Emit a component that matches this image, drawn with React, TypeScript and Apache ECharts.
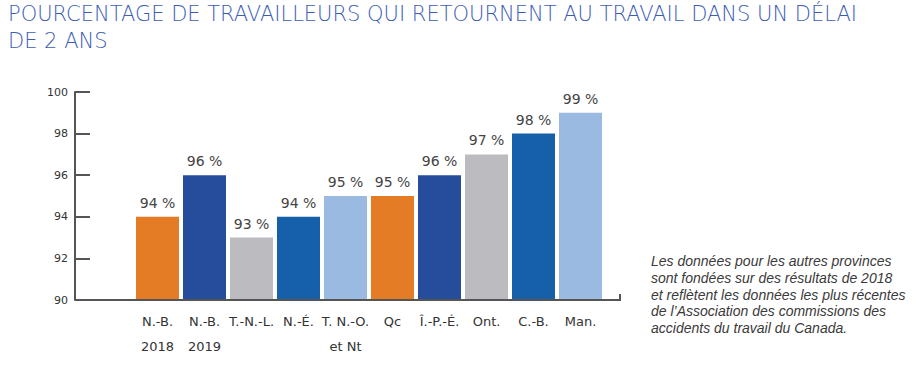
import React, { useEffect, useRef } from "react";
import * as echarts from "echarts";

const categories = [
  "N.-B.\n2018",
  "N.-B.\n2019",
  "T.-N.-L.",
  "N.-É.",
  "T. N.-O.\net Nt",
  "Qc",
  "Î.-P.-É.",
  "Ont.",
  "C.-B.",
  "Man.",
];
const values = [94, 96, 93, 94, 95, 95, 96, 97, 98, 99];
const barColors = [
  "#E37C25",
  "#264C9C",
  "#BCBCC0",
  "#1660AA",
  "#9BBAE2",
  "#E37C25",
  "#264C9C",
  "#BCBCC0",
  "#1660AA",
  "#9BBAE2",
];
const titleLines = [
  "POURCENTAGE DE TRAVAILLEURS QUI RETOURNENT AU TRAVAIL DANS UN DÉLAI",
  "DE 2 ANS",
];
const noteLines = [
  "Les données pour les autres provinces",
  "sont fondées sur des résultats de 2018",
  "et reflètent les données les plus récentes",
  "de l’Association des commissions des",
  "accidents du travail du Canada.",
];

export default function App() {
  const ref = useRef<HTMLDivElement>(null);
  useEffect(() => {
    if (!ref.current) return;
    const chart = echarts.init(ref.current, null, { renderer: "svg" });
    const font = "DejaVu Sans";
    chart.setOption({
      animation: false,
      backgroundColor: "#ffffff",
      grid: { left: 134, right: 317, top: 92, bottom: 67, containLabel: false },
      xAxis: {
        type: "category",
        data: categories,
        axisLine: { show: false },
        axisTick: { show: false },
        axisLabel: {
          interval: 0,
          color: "#333333",
          fontFamily: font,
          fontSize: 13,
          lineHeight: 25,
          margin: 9,
          verticalAlign: "top",
        },
      },
      yAxis: {
        type: "value",
        min: 90,
        max: 100,
        interval: 2,
        offset: 59,
        splitLine: { show: false },
        axisLine: { show: true, lineStyle: { color: "#555555", width: 2 } },
        axisTick: { show: true, inside: true, length: 15, lineStyle: { color: "#555555", width: 2 } },
        axisLabel: { color: "#333333", fontFamily: font, fontSize: 11, margin: 7 },
      },
      series: [
        {
          type: "bar",
          data: values.map((v, i) => ({ value: v, itemStyle: { color: barColors[i] } })),
          barCategoryGap: "8.5%",
          label: {
            show: true,
            position: "top",
            distance: 7,
            formatter: "{c} %",
            color: "#444444",
            fontFamily: font,
            fontSize: 14,
          },
        },
      ],
      graphic: [
        {
          type: "polyline",
          shape: { points: [[75, 300], [620, 300], [620, 294]] },
          style: { stroke: "#555555", lineWidth: 2, fill: null },
          z: 10,
        },
        {
          type: "text",
          left: 8,
          top: 0,
          style: {
            text: titleLines.join("\n"),
            fill: "#3D5DB5",
            font: `lighter 21px "${font}"`,
            lineHeight: 27,
          },
        },
        {
          type: "text",
          left: 651,
          top: 253,
          style: {
            text: noteLines.join("\n"),
            fill: "#3a3a3a",
            font: `italic 14px "Liberation Sans"`,
            lineHeight: 16.6,
          },
        },
      ],
    });
    return () => chart.dispose();
  }, []);
  return (
    <div
      ref={ref}
      style={{ position: "fixed", left: 0, top: 0, width: 921, height: 367 }}
    />
  );
}
